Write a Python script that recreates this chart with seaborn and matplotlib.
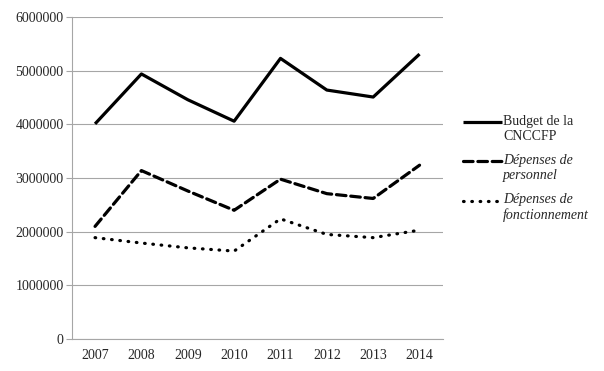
import pandas as pd
import seaborn as sns
import matplotlib.pyplot as plt
from matplotlib.ticker import MultipleLocator
from matplotlib.legend_handler import HandlerLine2D

years = [2007, 2008, 2009, 2010, 2011, 2012, 2013, 2014]
budget = [4010000, 4940000, 4460000, 4060000, 5230000, 4640000, 4510000, 5310000]
personnel = [2100000, 3140000, 2760000, 2400000, 2980000, 2710000, 2620000, 3240000]
fonctionnement = [1890000, 1790000, 1700000, 1640000, 2240000, 1950000, 1890000, 2030000]
series_names = ["Budget de la\nCNCCFP", "Dépenses de\npersonnel", "Dépenses de\nfonctionnement"]

df = pd.DataFrame({
    "annee": years * 3,
    "valeur": budget + personnel + fonctionnement,
    "serie": [series_names[0]] * 8 + [series_names[1]] * 8 + [series_names[2]] * 8,
})


# legend line sits on the first text line, like in Excel
class FirstLineHandler(HandlerLine2D):
    def create_artists(self, legend, orig_handle, xdescent, ydescent, width, height, fontsize, trans):
        artists = super().create_artists(legend, orig_handle, xdescent, ydescent,
                                         width, height, fontsize, trans)
        for a in artists:
            a.set_ydata([y + 0.5 * fontsize for y in a.get_ydata()])
        return artists


sns.set_style("white")
plt.rcParams['font.family'] = ['Liberation Serif', 'DejaVu Serif']

fig = plt.figure(figsize=(6.04, 3.71), dpi=100)
ax = fig.add_axes([0.119, 0.086, 0.614, 0.868])

sns.lineplot(data=df, x="annee", y="valeur", hue="serie", style="serie",
             palette=["black"] * 3,
             dashes={series_names[0]: "", series_names[1]: (3, 1.5), series_names[2]: (0.2, 2.4)},
             linewidth=2.3, ax=ax, legend=True)
for line in ax.get_lines():
    line.set_dash_capstyle("round")
    line.set_solid_capstyle("butt")

ax.set_xlim(2006.5, 2014.5)
ax.set_ylim(0, 6000000)
ax.yaxis.set_major_locator(MultipleLocator(1000000))
ax.set_xticks(years)
ax.set_xticks([y + 0.5 for y in [2006] + years], minor=True)
ax.ticklabel_format(axis="y", style="plain")
ax.grid(axis="y", color="#a6a6a6", linewidth=0.8)
ax.set_axisbelow(True)
for s in ["top", "right"]:
    ax.spines[s].set_visible(False)
ax.spines["left"].set_color("#a6a6a6")
ax.spines["bottom"].set_color("#a6a6a6")
ax.tick_params(axis="x", which="major", length=0, labelsize=10, pad=7)
ax.tick_params(axis="x", which="minor", length=5, color="#a6a6a6", width=0.8)
ax.tick_params(axis="y", length=4, color="#a6a6a6", labelsize=10, pad=2, left=True)
ax.set_xlabel("")
ax.set_ylabel("")

handles, labels = ax.get_legend_handles_labels()
leg = ax.legend(handles, labels, loc="center left", bbox_to_anchor=(1.02, 0.53), frameon=False,
                fontsize=10, handlelength=2.8, handletextpad=0.1, labelspacing=0.8,
                handler_map={h: FirstLineHandler() for h in handles})
for i, t in enumerate(leg.get_texts()):
    if i > 0:
        t.set_fontstyle("italic")

fig.savefig("out.png", dpi=100)
